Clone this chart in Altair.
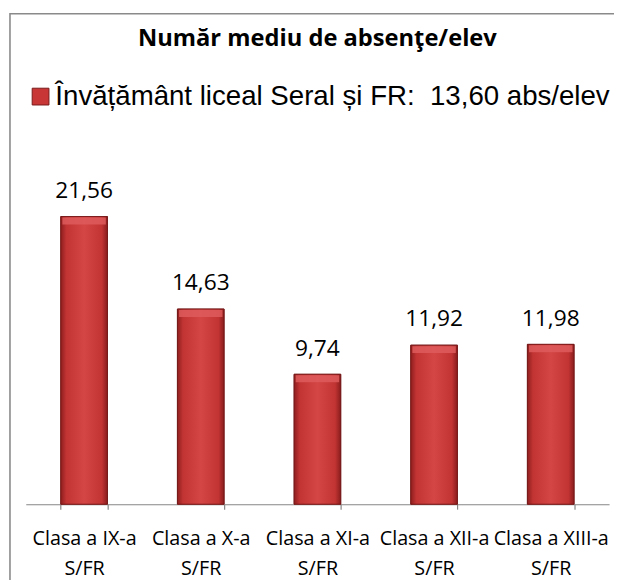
import altair as alt
import pandas as pd

categories = ["Clasa a IX-a\nS/FR", "Clasa a X-a\nS/FR", "Clasa a XI-a\nS/FR",
              "Clasa a XII-a\nS/FR", "Clasa a XIII-a\nS/FR"]
values = [21.56, 14.63, 9.74, 11.92, 11.98]
value_labels = ["21,56", "14,63", "9,74", "11,92", "11,98"]
series_name = "Învățământ liceal Seral și FR:\u00a0 13,60 abs/elev"
title_text = "Număr mediu de absenţe/elev"

df = pd.DataFrame({"cat": categories, "val": values, "lbl": value_labels,
                   "series": [series_name] * len(values)})

x_enc = alt.X("cat:N", sort=categories, title=None,
              scale=alt.Scale(paddingInner=0.6, paddingOuter=0.3),
              axis=alt.Axis(labelExpr="split(datum.label, '\\n')", labelAngle=0,
                            tickBand="extent", domainColor="#868686", tickColor="#868686",
                            tickSize=5, domainWidth=1.2, tickWidth=1.2,
                            labelFont="Open Sans", labelFontSize=20, labelColor="#000000",
                            labelLineHeight=30, labelPadding=20, labelBaseline="top",
                            labelLimit=0, labelOverlap=False))
y_enc = alt.Y("val:Q", scale=alt.Scale(domain=[0, 25]), axis=None)

base = alt.Chart(df)

legend_bars = base.mark_bar(stroke="#7a1a1a", strokeWidth=0.8).encode(
    x=x_enc, y=y_enc,
    color=alt.Color("series:N", title=None,
                    scale=alt.Scale(range=["#c93636"]),
                    legend=alt.Legend(orient="none", legendX=1, legendY=-89,
                                      symbolType="square", symbolSize=289,
                                      symbolStrokeColor="#7a1a1a", symbolStrokeWidth=1,
                                      labelFont="Liberation Sans", labelFontSize=28,
                                      labelColor="#000000", labelLimit=0, labelOffset=1)))

grad = alt.Gradient(gradient="linear", x1=0, x2=1, y1=0, y2=0,
                    stops=[alt.GradientStop(color="#8f1e1e", offset=0),
                           alt.GradientStop(color="#c23434", offset=0.12),
                           alt.GradientStop(color="#d44545", offset=0.5),
                           alt.GradientStop(color="#c23434", offset=0.88),
                           alt.GradientStop(color="#8a1c1c", offset=1)])

bars = base.mark_bar(fill=grad, stroke="#6e1616", strokeWidth=0.8).encode(x=x_enc, y=y_enc)

caps = base.mark_tick(color="#de5c5c", thickness=7, size=44, yOffset=4.5, opacity=0.85).encode(
    x=x_enc, y=y_enc)

labels = base.mark_text(font="Open Sans", fontSize=23, color="#000000",
                        baseline="alphabetic", dy=-19).encode(x=x_enc, y=y_enc, text="lbl:N")

border_df = pd.DataFrame({"k": [1]})
border = alt.Chart(border_df).mark_rect(fill=None, stroke="#8a8a8a", strokeWidth=1.6).encode(
    x=alt.value(-16), x2=alt.value(700), y=alt.value(-159), y2=alt.value(700))

chart = alt.layer(border, legend_bars, bars, caps, labels).properties(
    width=591, height=338,
    title=alt.TitleParams(title_text, font="Open Sans", fontSize=24, fontWeight="bold",
                          color="#000000", anchor="middle", offset=0,
                          baseline="alphabetic", dy=58),
    autosize=alt.AutoSizeParams(type="none"),
    padding={"left": 18, "top": 161, "right": 5, "bottom": 73},
).configure_view(stroke=None)

chart.save("out.html", embed_options={"renderer": "svg", "actions": False})
